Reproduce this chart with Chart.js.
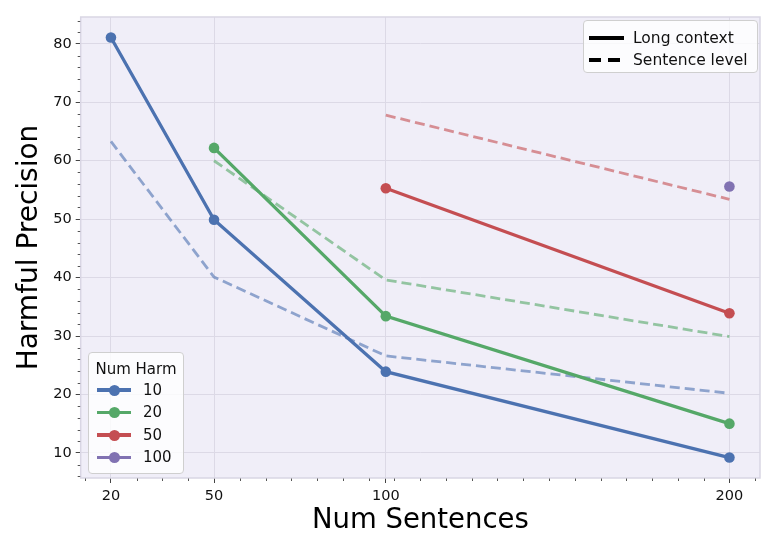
<!DOCTYPE html>
<html>
<head>
<meta charset="utf-8">
<script src="https://cdn.jsdelivr.net/npm/chart.js@4"></script>
<style>
  body { margin: 0; background: #fff; }
  #wrap { position: relative; width: 777px; height: 555px; font-family: "DejaVu Sans", sans-serif; }
  .legend { position: absolute; background: rgba(255,255,255,0.8); border: 1px solid #cfcfcf; border-radius: 4px; box-sizing: border-box; }
  .row { position: absolute; left: 0; height: 0; }
  .sample { position: absolute; height: 3.5px; margin-top: -1.75px; }
  .dot { position: absolute; width: 11px; height: 11px; margin-top: -5.5px; border-radius: 50%; }
  .lbl { position: absolute; font-size: 15px; line-height: 16px; margin-top: -8.5px; color: #111; white-space: nowrap; }
</style>
</head>
<body>
<div id="wrap">
  <canvas id="chart" width="777" height="555"></canvas>

  <div class="legend" style="left:583px; top:20px; width:175px; height:53px;">
    <div class="row" style="top:17px;">
      <div class="sample" style="left:5px; width:35px; background:#000;"></div>
      <div class="lbl" style="left:49px; font-size:15.5px;">Long context</div>
    </div>
    <div class="row" style="top:39px;">
      <div class="sample" style="left:5px; width:35px; background:repeating-linear-gradient(90deg,#000 0 12px,transparent 12px 19px);"></div>
      <div class="lbl" style="left:49px; font-size:15.5px;">Sentence level</div>
    </div>
  </div>

  <div class="legend" id="harmLegend" style="left:88px; top:352px; width:96px; height:122px;">
    <div class="lbl" style="left:0; width:94px; text-align:center; top:16px;">Num Harm</div>
  </div>
</div>

<script>
// data
const numSentences = [20, 50, 100, 200];
const harmLevels = ["10", "20", "50", "100"];
const harmColors = ["#4C72B0", "#55A868", "#C44E52", "#8172B2"];

// long context (solid) and sentence level (dashed), null = not run
const harm10Long = [81.1, 49.9, 23.9, 9.2];
const harm10Sent = [63.3, 40.1, 26.6, 20.2];
const harm20Long = [null, 62.2, 33.4, 15.0];
const harm20Sent = [null, 60.0, 39.6, 29.9];
const harm50Long = [null, null, 55.3, 33.9];
const harm50Sent = [null, null, 67.8, 53.4];
const harm100Long = [null, null, null, 55.6];
const harm100Sent = [null, null, null, null];

const yTicks = [10, 20, 30, 40, 50, 60, 70, 80];

const longSeries = [harm10Long, harm20Long, harm50Long, harm100Long];
const sentSeries = [harm10Sent, harm20Sent, harm50Sent, harm100Sent];

function toPoints(vals) {
  const pts = [];
  vals.forEach((v, i) => { if (v !== null) pts.push({ x: numSentences[i], y: v }); });
  return pts;
}

function fade(hex, a) {
  const n = parseInt(hex.slice(1), 16);
  return `rgba(${n >> 16},${(n >> 8) & 255},${n & 255},${a})`;
}

const datasets = [];
sentSeries.forEach((vals, i) => {
  datasets.push({
    label: harmLevels[i] + " sentence",
    data: toPoints(vals),
    borderColor: fade(harmColors[i], 0.6),
    borderWidth: 2.8,
    borderDash: [10, 5],
    pointRadius: 0,
    order: 2,
  });
});
longSeries.forEach((vals, i) => {
  datasets.push({
    label: harmLevels[i],
    data: toPoints(vals),
    borderColor: harmColors[i],
    backgroundColor: harmColors[i],
    borderWidth: 3.3,
    pointRadius: 5.3,
    pointBorderWidth: 0,
    pointHoverRadius: 5.3,
    order: 1,
  });
});

// legend rows for num harm
const harmLegend = document.getElementById("harmLegend");
harmLevels.forEach((lvl, i) => {
  const row = document.createElement("div");
  row.className = "row";
  row.style.top = (37 + i * 22.5) + "px";
  row.innerHTML =
    `<div class="sample" style="left:8px; width:34px; background:${harmColors[i]};"></div>` +
    `<div class="dot" style="left:19.5px; background:${harmColors[i]};"></div>` +
    `<div class="lbl" style="left:54px;">${lvl}</div>`;
  harmLegend.appendChild(row);
});

// plot background, frame and minor ticks
const framePlugin = {
  id: "frame",
  beforeDraw(chart) {
    const { ctx, chartArea: a } = chart;
    ctx.save();
    ctx.fillStyle = "#f0eef8";
    ctx.fillRect(a.left, a.top, a.right - a.left, a.bottom - a.top);
    ctx.restore();
  },
  afterDraw(chart) {
    const { ctx, chartArea: a, scales } = chart;
    ctx.save();
    ctx.strokeStyle = "#d9d6e4";
    ctx.lineWidth = 1.5;
    ctx.strokeRect(a.left, a.top, a.right - a.left, a.bottom - a.top);

    ctx.strokeStyle = "#555";
    ctx.lineWidth = 1;
    ctx.beginPath();
    for (let v = 6; v <= 84; v += 2) {
      if (v % 10 === 0) continue;
      const y = Math.round(scales.y.getPixelForValue(v)) + 0.5;
      ctx.moveTo(a.left - 3, y);
      ctx.lineTo(a.left - 0.5, y);
    }
    for (let v = 12.5; v <= 208; v += 7.5) {
      if (numSentences.includes(v)) continue;
      const x = Math.round(scales.x.getPixelForValue(v)) + 0.5;
      ctx.moveTo(x, a.bottom + 0.5);
      ctx.lineTo(x, a.bottom + 3);
    }
    ctx.stroke();
    ctx.restore();
  },
};

new Chart(document.getElementById("chart"), {
  type: "line",
  data: { datasets },
  plugins: [framePlugin],
  options: {
    responsive: false,
    animation: false,
    devicePixelRatio: 1,
    layout: { padding: { top: 17, right: 17, left: 0, bottom: 0 } },
    plugins: { legend: { display: false }, tooltip: { enabled: false } },
    scales: {
      x: {
        type: "linear",
        min: 11.2,
        max: 208.9,
        afterBuildTicks: (s) => { s.ticks = numSentences.map((v) => ({ value: v })); },
        afterFit: (s) => { s.height = 77; },
        border: { display: false },
        grid: { color: "#dcd9e6", lineWidth: 1, tickColor: "#444", tickLength: 5 },
        ticks: { color: "#111", padding: 5, font: { family: "DejaVu Sans", size: 14.5 } },
        title: {
          display: true,
          text: "Num Sentences",
          color: "#000",
          font: { family: "DejaVu Sans", size: 27.5, lineHeight: 1.2 },
          padding: { top: 0, bottom: 17.5 },
        },
      },
      y: {
        min: 5.7,
        max: 84.6,
        afterBuildTicks: (s) => { s.ticks = yTicks.map((v) => ({ value: v })); },
        afterFit: (s) => { s.width = 80.7; },
        border: { display: false },
        grid: { color: "#dcd9e6", lineWidth: 1, tickColor: "#444", tickLength: 5 },
        ticks: { color: "#111", padding: 4, font: { family: "DejaVu Sans", size: 14.5 } },
        title: {
          display: true,
          text: "Harmful Precision",
          color: "#000",
          font: { family: "DejaVu Sans", size: 28, lineHeight: 1.2 },
          padding: { top: 13, bottom: 0 },
        },
      },
    },
  },
});
</script>
</body>
</html>
